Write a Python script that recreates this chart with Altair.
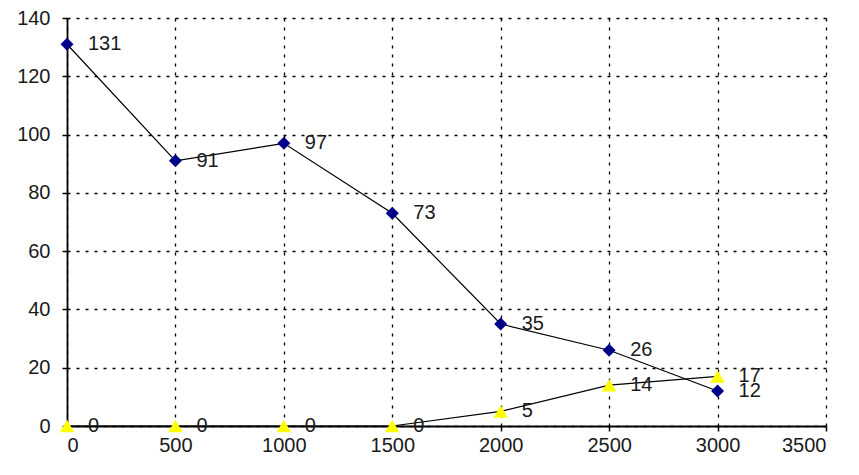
import altair as alt
import pandas as pd

x_vals = [0, 500, 1000, 1500, 2000, 2500, 3000]
series_a = [131, 91, 97, 73, 35, 26, 12]
series_b = [0, 0, 0, 0, 5, 14, 17]
x_ticks = [0, 500, 1000, 1500, 2000, 2500, 3000, 3500]
y_ticks = [0, 20, 40, 60, 80, 100, 120, 140]

df_a = pd.DataFrame({"x": x_vals, "y": series_a})
df_b = pd.DataFrame({"x": x_vals, "y": series_b})

xs = alt.Scale(domain=[0, 3500], nice=False, zero=False)
ys = alt.Scale(domain=[0, 140], nice=False)

X = alt.X("x:Q", scale=xs, axis=alt.Axis(values=x_ticks, title=None, format="d"))
Y = alt.Y("y:Q", scale=ys, axis=alt.Axis(values=y_ticks, title=None, format="d"))


def series(df, shape, fill, size):
    base = alt.Chart(df).encode(x=X, y=Y)
    line = base.mark_line(color="black", strokeWidth=1.2, clip=False)
    pts = base.mark_point(shape=shape, filled=True, fill=fill, color=fill,
                          size=size, opacity=1, strokeWidth=0, clip=False)
    txt = base.mark_text(align="left", baseline="middle", dx=21, fontSize=20,
                         font="Liberation Sans", color="#1a1a1a").encode(text="y:Q")
    return line, pts, txt


la, pa, ta = series(df_a, "diamond", "#00008B", 170)
lb, pb, tb = series(df_b, "triangle-up", "#FFFF00", 210)

chart = alt.layer(la, lb, pa, pb, ta, tb).properties(
    width=759, height=408,
    autosize=alt.AutoSizeParams(type="none"),
    padding={"left": 59, "top": 10, "right": 25, "bottom": 40},
    background="white",
).configure_view(stroke=None).configure_axis(
    grid=True, gridColor="black", gridDash=[3, 6], gridWidth=1.3, gridOpacity=1,
    domainColor="black", domainWidth=1.8, tickColor="black", tickSize=5,
    tickWidth=1.5, labelFont="Liberation Sans", labelFontSize=20,
    labelColor="#1a1a1a", labelPadding=4,
).configure_axisY(labelPadding=12)

chart.save("out.html", embed_options={"renderer": "svg", "actions": False})
